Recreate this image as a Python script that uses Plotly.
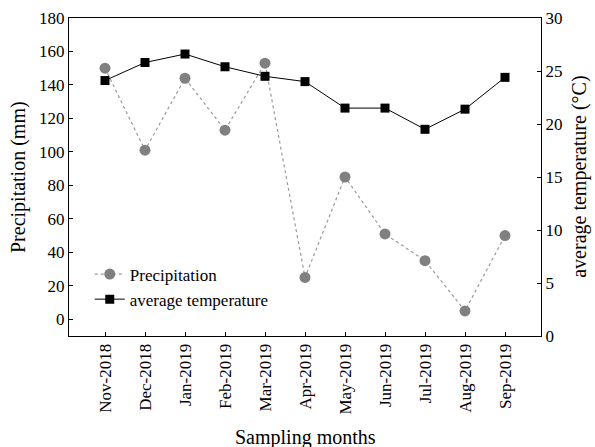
import plotly.graph_objects as go

months = ["Nov-2018", "Dec-2018", "Jan-2019", "Feb-2019", "Mar-2019", "Apr-2019",
          "May-2019", "Jun-2019", "Jul-2019", "Aug-2019", "Sep-2019"]
precipitation = [150, 101, 144, 113, 153, 25, 85, 51, 35, 5, 50]
temperature = [24.1, 25.8, 26.6, 25.4, 24.5, 24.0, 21.5, 21.5, 19.5, 21.4, 24.4]

font = "Liberation Serif, Times New Roman, serif"
x_idx = list(range(len(months)))

fig = go.Figure()
fig.add_trace(go.Scatter(
    x=x_idx, y=precipitation, name="Precipitation", mode="lines+markers",
    line=dict(color="#9a9a9a", width=1.2, dash="dot"),
    marker=dict(symbol="circle", size=11, color="#808080"),
    yaxis="y"))
fig.add_trace(go.Scatter(
    x=x_idx, y=temperature, name="average temperature", mode="lines+markers",
    line=dict(color="black", width=1),
    marker=dict(symbol="square", size=9, color="black"),
    yaxis="y2"))

axis_common = dict(showgrid=False, zeroline=False, showline=True, linecolor="black",
                   linewidth=1, ticks="inside", ticklen=4, tickcolor="black",
                   automargin=False,
                   tickfont=dict(family=font, size=17, color="black"))

title_font = dict(family=font, size=20, color="black")

fig.update_layout(
    width=595, height=447,
    margin=dict(l=69, r=54, t=18, b=111),
    paper_bgcolor="white", plot_bgcolor="white",
    font=dict(family=font, size=17, color="black"),
    showlegend=True,
    legend=dict(x=0.044, y=0.25, xanchor="left", yanchor="top",
                bgcolor="rgba(0,0,0,0)", font=dict(family=font, size=17),
                tracegroupgap=0, itemwidth=30),
    xaxis=dict(range=[-0.9, 10.9], tickmode="array", tickvals=x_idx, ticktext=months,
               tickangle=-90, mirror=True, **axis_common),
    yaxis=dict(range=[-10, 180], tickvals=[0, 20, 40, 60, 80, 100, 120, 140, 160, 180],
               **axis_common),
    yaxis2=dict(range=[0, 30], tickvals=[0, 5, 10, 15, 20, 25, 30], overlaying="y", side="right",
                **axis_common),
    annotations=[
        dict(text="Sampling months", xref="paper", yref="paper", x=0.5, y=-0.318,
             xanchor="center", yanchor="middle", showarrow=False, font=title_font),
        dict(text="Precipitation (mm)", xref="paper", yref="paper", x=-0.108, y=0.5,
             xanchor="center", yanchor="middle", showarrow=False, textangle=-90, font=title_font),
        dict(text="average temperature (°C)", xref="paper", yref="paper", x=1.08, y=0.5,
             xanchor="center", yanchor="middle", showarrow=False, textangle=-90, font=title_font),
    ],
)

fig.write_html("out.html", config={"displayModeBar": False},
               post_script="document.body.style.margin='0';document.body.style.overflow='hidden';")
